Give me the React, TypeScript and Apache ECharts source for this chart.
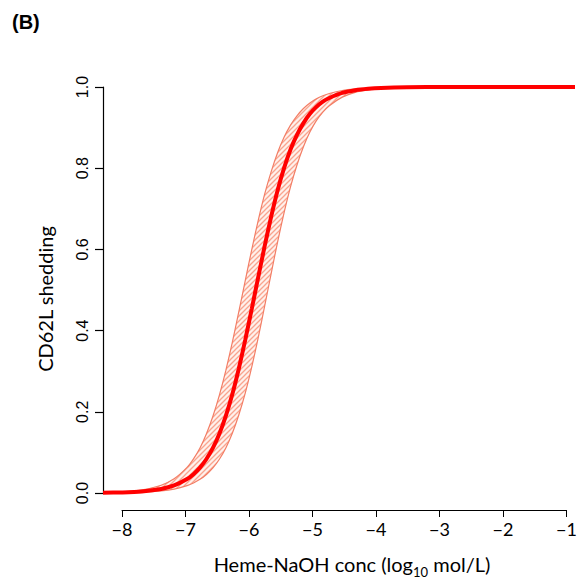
import React, { useEffect, useRef } from "react";
import * as echarts from "echarts";

// log10 concentration (mol/L)
const logConc = [
  -8.3, -8.0, -7.7, -7.4, -7.2, -7.0, -6.9, -6.8, -6.7, -6.6, -6.5, -6.4, -6.3, -6.2,
  -6.1, -6.0, -5.9, -5.8, -5.7, -5.6, -5.5, -5.4, -5.3, -5.2, -5.1, -5.0, -4.9, -4.8,
  -4.6, -4.4, -4.2, -4.0, -3.6, -3.0, -2.0, -1.0,
];
// fitted CD62L shedding
const fitMean = [
  0.0006, 0.0015, 0.0039, 0.01, 0.0185, 0.0343, 0.0464, 0.0625, 0.0837, 0.111, 0.146,
  0.19, 0.243, 0.306, 0.377, 0.453, 0.531, 0.608, 0.68, 0.745, 0.8, 0.846, 0.882, 0.911,
  0.934, 0.951, 0.964, 0.973, 0.9855, 0.9922, 0.9958, 0.9978, 0.9994, 0.9999, 1.0, 1.0,
];
// upper edge of the confidence band (left curve)
const ciUpper = [
  0.0012, 0.003, 0.0076, 0.0191, 0.035, 0.0631, 0.0842, 0.111, 0.146, 0.189, 0.241,
  0.302, 0.371, 0.446, 0.523, 0.599, 0.671, 0.736, 0.791, 0.838, 0.876, 0.906, 0.929,
  0.947, 0.9605, 0.9708, 0.9784, 0.9841, 0.9914, 0.9953, 0.9975, 0.9986, 0.9996, 1.0,
  1.0, 1.0,
];
// lower edge of the confidence band (right curve)
const ciLower = [
  0.0003, 0.0007, 0.0019, 0.0051, 0.0096, 0.018, 0.0246, 0.0336, 0.0457, 0.0618, 0.0832,
  0.111, 0.147, 0.192, 0.246, 0.31, 0.382, 0.46, 0.54, 0.618, 0.69, 0.754, 0.808, 0.853,
  0.889, 0.917, 0.938, 0.954, 0.975, 0.9869, 0.993, 0.9963, 0.999, 0.9998, 1.0, 1.0,
];
const xTickValues = [-8, -7, -6, -5, -4, -3, -2, -1];
const yTickValues = [0, 0.2, 0.4, 0.6, 0.8, 1.0];

function makeHatch() {
  const c = document.createElement("canvas");
  c.width = 5;
  c.height = 5;
  const ctx = c.getContext("2d");
  if (ctx) {
    ctx.fillStyle = "#fff1ec";
    ctx.fillRect(0, 0, 5, 5);
    ctx.strokeStyle = "#f9a48e";
    ctx.lineWidth = 1.3;
    ctx.beginPath();
    ctx.moveTo(0, 5);
    ctx.lineTo(5, 0);
    ctx.moveTo(-1, 1);
    ctx.lineTo(1, -1);
    ctx.moveTo(4, 6);
    ctx.lineTo(6, 4);
    ctx.stroke();
  }
  return c;
}

export default function App() {
  const ref = useRef<HTMLDivElement>(null);
  useEffect(() => {
    if (!ref.current) return;
    const chart = echarts.init(ref.current, null, { renderer: "svg" });
    const pair = (arr: number[]) => logConc.map((x, i) => [x, arr[i]]);
    const bandRows = logConc.map((x, i) => [x, ciUpper[i], ciLower[i]]);
    const hatch = makeHatch();
    const sans = "Lato, 'Open Sans', sans-serif";
    chart.setOption({
      animation: false,
      grid: [
        { left: 103, right: 5, top: 87, bottom: 90 },
        { left: 122, right: 5, top: 509, bottom: 73 },
      ],
      xAxis: [
        { type: "value", gridIndex: 0, min: -8.3, max: -1, show: false },
        {
          type: "value",
          gridIndex: 1,
          min: -8,
          max: -1,
          interval: 1,
          position: "bottom",
          axisLine: { show: true, lineStyle: { color: "#000", width: 1 } },
          axisTick: { show: true, length: 7, lineStyle: { color: "#000", width: 1 } },
          axisLabel: {
            show: true,
            color: "#000",
            fontSize: 18,
            fontFamily: sans,
            margin: 10,
            formatter: (v: number) =>
              xTickValues.includes(v) ? String(v).replace("-", "\u2212") : "",
          },
          splitLine: { show: false },
        },
      ],
      yAxis: [
        {
          type: "value",
          gridIndex: 0,
          min: 0,
          max: 1,
          interval: 0.2,
          axisLine: { show: true, lineStyle: { color: "#000", width: 1.2 } },
          axisTick: { show: true, length: 8, lineStyle: { color: "#000", width: 1.2 } },
          axisLabel: {
            show: true,
            color: "#000",
            fontSize: 16,
            fontFamily: "'Liberation Sans', Arial, sans-serif",
            rotate: 90,
            margin: 13,
            formatter: (v: number) =>
              yTickValues.some((t) => Math.abs(t - v) < 1e-9) ? v.toFixed(1) : "",
          },
          splitLine: { show: false },
        },
        { type: "value", gridIndex: 1, show: false, min: 0, max: 1 },
      ],
      graphic: [
        {
          type: "text",
          left: 12,
          top: 12,
          style: {
            text: "(B)",
            fontSize: 20,
            fontWeight: "bold",
            fontFamily: "'Liberation Sans', Arial, sans-serif",
            fill: "#000",
          },
        },
        {
          type: "text",
          x: 45,
          y: 299,
          rotation: Math.PI / 2,
          style: {
            text: "CD62L shedding",
            fontSize: 20,
            fontFamily: sans,
            fill: "#000",
            align: "center",
            verticalAlign: "middle",
          },
        },
        {
          type: "text",
          x: 352,
          y: 566,
          style: {
            text: "{n|Heme-NaOH conc (log}{s|10}{n| mol/L)}",
            align: "center",
            verticalAlign: "middle",
            rich: {
              n: { fontSize: 20, fontFamily: sans, fill: "#000", lineHeight: 24, verticalAlign: "top" },
              s: {
                fontSize: 13,
                fontFamily: sans,
                fill: "#000",
                lineHeight: 24,
                padding: [11, 0, 0, 0],
                verticalAlign: "top",
              },
            },
          },
        },
      ],
      series: [
        {
          type: "custom",
          xAxisIndex: 0,
          yAxisIndex: 0,
          data: bandRows,
          silent: true,
          z: 1,
          renderItem: (params: any, api: any) => {
            if (params.dataIndex !== 0) return null;
            const top = bandRows.map((r) => api.coord([r[0], r[1]]));
            const bottom = bandRows.map((r) => api.coord([r[0], r[2]])).reverse();
            return {
              type: "polygon",
              shape: { points: top.concat(bottom) },
              style: {
                fill: { image: hatch, repeat: "repeat", imageWidth: 5, imageHeight: 5 },
                stroke: "none",
              },
            };
          },
        },
        {
          type: "line",
          xAxisIndex: 0,
          yAxisIndex: 0,
          data: pair(ciUpper),
          symbol: "none",
          smooth: 0.2,
          lineStyle: { color: "#f37e66", width: 1.2 },
          silent: true,
          z: 2,
        },
        {
          type: "line",
          xAxisIndex: 0,
          yAxisIndex: 0,
          data: pair(ciLower),
          symbol: "none",
          smooth: 0.2,
          lineStyle: { color: "#f37e66", width: 1.2 },
          silent: true,
          z: 2,
        },
        {
          type: "line",
          xAxisIndex: 0,
          yAxisIndex: 0,
          data: pair(fitMean),
          symbol: "none",
          smooth: 0.2,
          lineStyle: { color: "#ff0000", width: 4 },
          silent: true,
          z: 3,
        },
      ],
    });
    return () => chart.dispose();
  }, []);
  return (
    <div
      ref={ref}
      style={{ position: "absolute", left: 0, top: 0, width: 580, height: 583, background: "#fff" }}
    />
  );
}
